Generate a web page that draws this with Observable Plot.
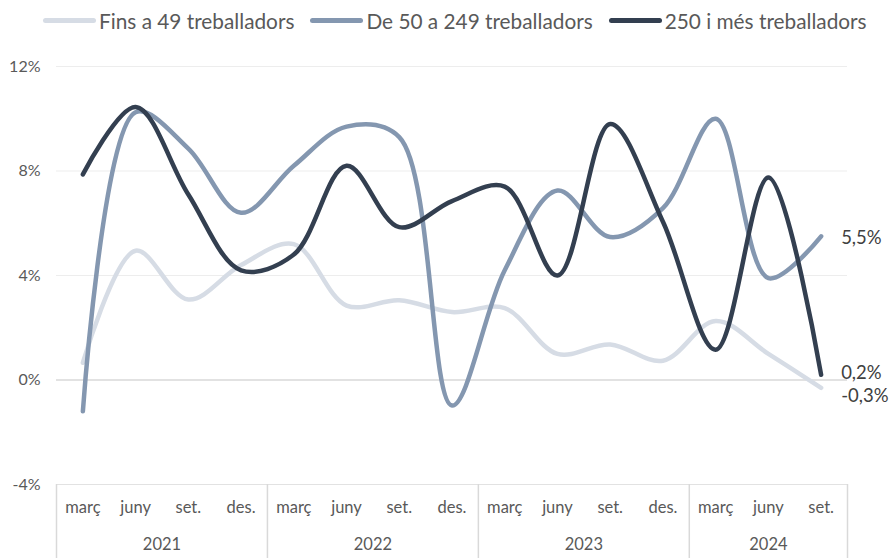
<!DOCTYPE html>
<html><head><meta charset="utf-8">
<script src="https://cdn.jsdelivr.net/npm/d3@7"></script>
<script src="https://cdn.jsdelivr.net/npm/@observablehq/plot@0.6"></script>
<style>
body{margin:0;background:#fff;font-family:Lato,sans-serif;}
#legend{height:40px;display:flex;align-items:center;padding-left:43px;font-size:20.8px;color:#595959;white-space:nowrap;}
.item{display:flex;align-items:center;margin-right:16px;}
.sw{width:53px;height:5px;border-radius:3px;margin-right:3px;}
#chart svg{display:block;}
</style></head><body>
<div id="legend"></div>
<div id="chart"></div>
<script>
const years = ["2021","2022","2023","2024"];
const quarterYear = ["2021","2021","2021","2021","2022","2022","2022","2022","2023","2023","2023","2023","2024","2024","2024"];
const months = ["març","juny","set.","des.","març","juny","set.","des.","març","juny","set.","des.","març","juny","set."];
const series = ["Fins a 49 treballadors","De 50 a 249 treballadors","250 i més treballadors"];
const small  = [0.66,4.95,3.08,4.4,5.2,2.85,3.05,2.6,2.75,1.0,1.36,0.74,2.26,1.0,-0.3];
const medium = [-1.2,10.25,8.86,6.4,8.2,9.7,9.3,-0.98,4.2,7.25,5.47,6.58,10.0,3.9,5.5];
const large  = [7.87,10.45,7.1,4.2,4.8,8.2,5.85,6.85,7.4,4.0,9.8,6.06,1.16,7.75,0.2];
const colors = ["#d6dce5","#8497b0","#333f50"];
const yTicks = [-4,0,4,8,12];

const values = [small, medium, large];
const idx = d3.range(months.length);
const rows = series.flatMap((s,k) => values[k].map((v,i) => ({i, v, s})));
const yearGroups = years.map(y => {
  const is = idx.filter(i => quarterYear[i] === y);
  return {year: y, start: is[0], end: is[is.length-1], center: (is[0] + is[is.length-1]) / 2};
});
const separators = Array.from(new Set(yearGroups.flatMap(g => [g.start - 0.5, g.end + 0.5])));
const fmt = v => v.toFixed(1).replace(".", ",") + "%";
const lastRows = series.map((s,k) => ({i: idx.length-1, v: values[k][idx.length-1], s}));

// legend
const legend = document.getElementById("legend");
series.forEach((s,k) => {
  const it = document.createElement("div"); it.className = "item";
  const sw = document.createElement("div"); sw.className = "sw"; sw.style.background = colors[k];
  const tx = document.createElement("span"); tx.textContent = s;
  it.appendChild(sw); it.appendChild(tx); legend.appendChild(it);
});

const labelDy = [8, 2, -2];
const chart = Plot.plot({
  width: 893, height: 518,
  marginLeft: 56, marginRight: 46, marginTop: 26, marginBottom: 74,
  x: {type: "linear", domain: [-0.5, idx.length - 0.5], axis: null},
  y: {domain: [-4, 12], axis: null},
  color: {domain: series, range: colors},
  style: {fontFamily: "Lato, sans-serif", fontSize: "16px", color: "#595959", background: "#fff"},
  marks: [
    Plot.gridY([4, 8, 12], {stroke: "#ededed", strokeOpacity: 1}),
    Plot.ruleY([-4], {stroke: "#e2e2e2"}),
    Plot.ruleY([0], {stroke: "#d9d9d9", strokeWidth: 1.5}),
    Plot.axisY({ticks: yTicks, tickSize: 0, tickPadding: 16, tickFormat: d => d + "%", fontSize: 16, fill: "#595959", label: null}),
    Plot.axisX(separators, {tickSize: 74, tickFormat: () => "", stroke: "#d9d9d9", strokeWidth: 1.5, label: null}),
    Plot.text(idx, {x: d => d, text: i => months[i], frameAnchor: "bottom", dy: 28, fontSize: 16.5, fill: "#595959"}),
    Plot.text(yearGroups, {x: "center", text: "year", frameAnchor: "bottom", dy: 65, fontSize: 16.5, fill: "#595959"}),
    Plot.line(rows, {x: "i", y: "v", z: "s", stroke: "s", strokeWidth: 4.5, curve: "catmull-rom", strokeLinecap: "round", strokeLinejoin: "round"}),
    ...series.map((s,k) => Plot.text(lastRows.filter(d => d.s === s), {x: "i", y: "v", text: d => fmt(d.v), textAnchor: "start", dx: 20, dy: labelDy[k], fontSize: 18.5, fill: "#404040"}))
  ]
});
document.getElementById("chart").appendChild(chart);
</script>
</body></html>
